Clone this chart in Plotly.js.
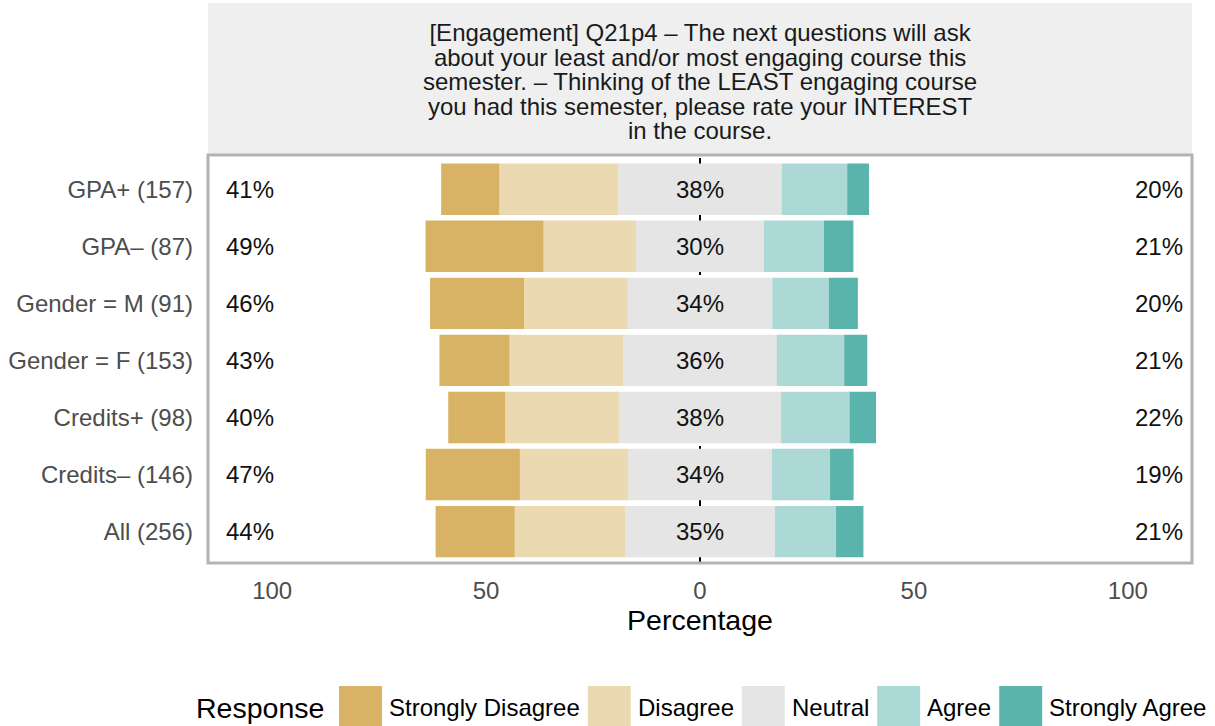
<!DOCTYPE html>
<html>
<head>
<meta charset="utf-8">
<script src="https://cdn.plot.ly/plotly-3.0.1.min.js"></script>
<style>html,body{margin:0;padding:0;background:#fff;}#chart{width:1215px;height:726px;}</style>
</head>
<body>
<div id="chart"></div>
<script>
// ---- data ----
const groups = ['GPA+ (157)', 'GPA\u2013 (87)', 'Gender = M (91)', 'Gender = F (153)', 'Credits+ (98)', 'Credits\u2013 (146)', 'All (256)'];
const responses = ['Strongly Disagree', 'Disagree', 'Neutral', 'Agree', 'Strongly Agree'];
const stronglyDisagree = [13.6, 27.6, 22.0, 16.4, 13.3, 22.0, 18.5];
const disagree         = [27.8, 21.6, 24.2, 26.6, 26.6, 25.3, 25.8];
const neutral          = [38.2, 29.9, 33.8, 35.8, 37.9, 33.6, 35.0];
const agree            = [15.3, 14.0, 13.2, 15.8, 16.0, 13.6, 14.3];
const stronglyAgree    = [5.1, 6.9, 6.8, 5.4, 6.2, 5.5, 6.4];
const xTickVals = [-100, -50, 0, 50, 100];
const xTickText = ['100', '50', '0', '50', '100'];
const titleLines = [
  '[Engagement] Q21p4 \u2013 The next questions will ask',
  'about your least and/or most engaging course this',
  'semester. \u2013 Thinking of the LEAST engaging course',
  'you had this semester, please rate your INTEREST',
  'in the course.'
];

// ---- styles ----
const colors = {'Strongly Disagree':'#d8b365','Disagree':'#ebd9b1','Neutral':'#e5e5e5','Agree':'#acd9d5','Strongly Agree':'#5ab4ac'};
const FONT = '"Liberation Sans", Arial, Helvetica, sans-serif';
const FS = 24;
const W = 1215, H = 726;
const M = {l: 208, r: 23, t: 155, b: 163};
const PW = W - M.l - M.r, PH = H - M.t - M.b;
const px2x = p => (p - M.l) / PW;
const py2y = p => (H - M.b - p) / PH;

function bar(name, xs) {
  return {
    type: 'bar', orientation: 'h', name: name, y: groups, x: xs,
    marker: {color: colors[name], line: {width: 0}}, width: 0.9,
    legendgroup: name, showlegend: false, hoverinfo: 'skip'
  };
}
const traces = [
  bar('Neutral', neutral.map(v => -v / 2)),
  bar('Disagree', disagree.map(v => -v)),
  bar('Strongly Disagree', stronglyDisagree.map(v => -v)),
  bar('Neutral', neutral.map(v => v / 2)),
  bar('Agree', agree),
  bar('Strongly Agree', stronglyAgree)
];

const annotations = [];
const txtFont = {family: FONT, size: FS, color: '#111111'};
groups.forEach((g, i) => {
  annotations.push({x: -111.3, y: g, xref: 'x', yref: 'y', text: Math.round(stronglyDisagree[i] + disagree[i]) + '%', showarrow: false, xanchor: 'left', font: txtFont});
  annotations.push({x: 0, y: g, xref: 'x', yref: 'y', text: Math.round(neutral[i]) + '%', showarrow: false, xanchor: 'center', font: txtFont});
  annotations.push({x: 113.3, y: g, xref: 'x', yref: 'y', text: Math.round(agree[i] + stronglyAgree[i]) + '%', showarrow: false, xanchor: 'right', font: txtFont});
});

// strip title (single text block; line spacing tightened after render)
annotations.push({x: 0.5, y: py2y(17), xref: 'paper', yref: 'paper', text: titleLines.join('<br>'), showarrow: false, xanchor: 'center', yanchor: 'top', align: 'center', font: {family: FONT, size: FS, color: '#1a1a1a'}});

const shapes = [
  {type: 'rect', xref: 'paper', yref: 'paper', x0: 0, x1: 1, y0: 1, y1: py2y(3), fillcolor: '#efefef', line: {width: 0}, layer: 'below'},
  {type: 'line', xref: 'x', yref: 'paper', x0: 0, x1: 0, y0: 0, y1: 1, line: {color: '#000000', width: 2, dash: 'dash'}, layer: 'below'},
  {type: 'rect', xref: 'paper', yref: 'paper', x0: 0, x1: 1, y0: 0, y1: 1, line: {color: '#b3b3b3', width: 3}, fillcolor: 'rgba(0,0,0,0)', layer: 'above'}
];

// manual legend (large keys)
const ctx = document.createElement('canvas').getContext('2d');
ctx.font = FS + 'px "Liberation Sans"';
const legY = 707.5, key = 43;
annotations.push({x: px2x(194), y: py2y(legY), xref: 'paper', yref: 'paper', text: 'Response', showarrow: false, xanchor: 'left', yanchor: 'middle', font: {family: FONT, size: 28.5, color: '#000'}});
let lx = 339;
responses.forEach(r => {
  shapes.push({type: 'rect', xref: 'paper', yref: 'paper', x0: px2x(lx), x1: px2x(lx + key), y0: py2y(legY - key / 2), y1: py2y(legY + key / 2), fillcolor: colors[r], line: {width: 0}});
  annotations.push({x: px2x(lx + key + 5), y: py2y(legY), xref: 'paper', yref: 'paper', text: r, showarrow: false, xanchor: 'left', yanchor: 'middle', font: {family: FONT, size: FS, color: '#000'}});
  lx = lx + key + 7 + ctx.measureText(r).width + 8;
});

const layout = {
  width: W, height: H, margin: M,
  paper_bgcolor: '#ffffff', plot_bgcolor: '#ffffff',
  barmode: 'relative', bargap: 0.1, showlegend: false,
  font: {family: FONT, size: FS, color: '#4d4d4d'},
  xaxis: {
    range: [-115, 115], tickvals: xTickVals, ticktext: xTickText,
    showgrid: false, zeroline: false, showline: false, ticks: '',
    tickfont: {family: FONT, size: FS, color: '#4d4d4d'}, ticklabelstandoff: 11,
    title: {text: 'Percentage', font: {family: FONT, size: 28.5, color: '#000'}, standoff: 6},
    fixedrange: true
  },
  yaxis: {
    type: 'category', categoryorder: 'array', categoryarray: groups.slice().reverse(),
    range: [-0.55, 6.6], showgrid: false, zeroline: false, showline: false, ticks: '',
    tickfont: {family: FONT, size: FS, color: '#4d4d4d'}, ticklabelstandoff: 14,
    fixedrange: true
  },
  annotations: annotations,
  shapes: shapes
};

Plotly.newPlot('chart', traces, layout, {displayModeBar: false, staticPlot: true}).then(gd => {
  const lineStep = 24.5 / FS;
  gd.querySelectorAll('.annotation-text').forEach(t => {
    if (t.textContent.indexOf('[Engagement]') === 0) {
      t.querySelectorAll('tspan.line').forEach((ts, i) => ts.setAttribute('dy', (i * lineStep) + 'em'));
    }
  });
});
</script>
</body>
</html>
